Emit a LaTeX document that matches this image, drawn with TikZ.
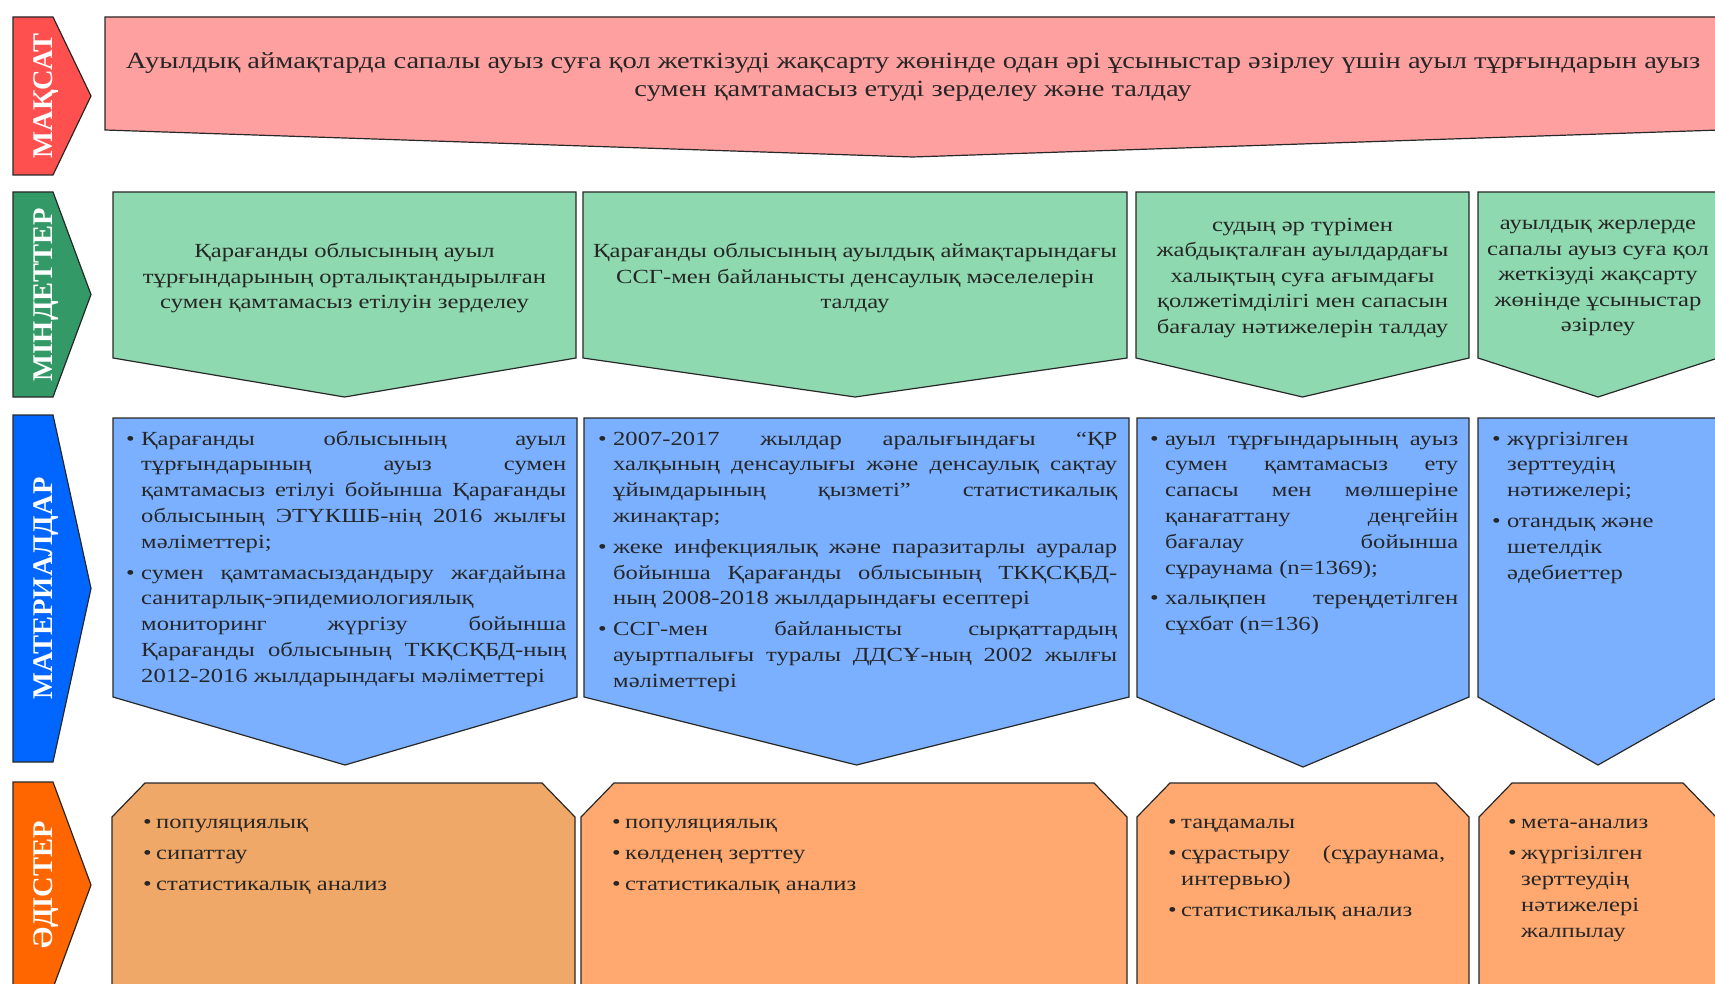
\documentclass[tikz,border=0pt]{standalone}
\usepackage{fontspec}
\setmainfont{Liberation Serif}[FakeStretch=1.23]
\newfontfamily\lblfont{Liberation Serif}
\definecolor{pinkfill}{RGB}{255,160,160}
\definecolor{greenfill}{RGB}{142,217,176}
\definecolor{bluefill}{RGB}{122,176,255}
\definecolor{orangeA}{RGB}{240,168,104}
\definecolor{orangeB}{RGB}{255,169,112}
\definecolor{lblred}{RGB}{255,80,80}
\definecolor{lblgreen}{RGB}{51,153,102}
\definecolor{lblblue}{RGB}{0,102,255}
\definecolor{lblorange}{RGB}{255,102,0}
\definecolor{edgecol}{RGB}{40,40,40}
\newlength\bulw
\newcommand\itm[1]{\par\noindent\hangindent=\bulw\hangafter=1\hbox to\bulw{\strut•\hss}#1\par}
\newcommand\lblshape[3]{\path[shp, fill=#1] (13,#2) -- (53,#2) -- (91,{(#2+#3)/2}) -- (53,#3) -- (13,#3) -- cycle;}
\newcommand\chev[6]{\path[shp, fill=#1] (#2,#4) -- (#3,#4) -- (#3,#5) -- ({(#2+#3)/2},#6) -- (#2,#5) -- cycle;}
\newcommand\cutbox[3]{\path[shp, fill=#1] (#2,817) -- (#2+33,783) -- (#3-33,783) -- (#3,817) -- (#3,1010) -- (#2,1010) -- cycle;}
\tikzset{
 shp/.style={draw=edgecol, line width=1.2pt, line join=miter},
 lbl/.style={font=\lblfont\bfseries\fontsize{28.5}{30}\selectfont, text=white, rotate=90, inner sep=0pt, anchor=base},
 ctxt/.style={font=\fontsize{20}{25.5}\selectfont, align=center, inner sep=0pt, text=black!85},
 mat/.style={font=\fontsize{20}{25.8}\selectfont, align=justify, inner sep=0pt, anchor=north west, text=black!85,
   execute at begin node={\setlength\bulw{15pt}\setlength\parskip{5pt}\hyphenpenalty=10000\exhyphenpenalty=10000\hbadness=10000}},
 met/.style={font=\fontsize{20}{26}\selectfont, align=justify, inner sep=0pt, anchor=north west, text=black!85,
   execute at begin node={\setlength\bulw{13pt}\setlength\parskip{4.6pt}\hyphenpenalty=10000\exhyphenpenalty=10000\hbadness=10000}},
}
\begin{document}
\begin{tikzpicture}[x=1pt,y=-1pt]
\useasboundingbox (0,0) rectangle (1715,984);
\fill[white] (0,0) rectangle (1715,984);
\clip (0,0) rectangle (1715,984);
% left labels
\lblshape{lblred}{17}{175}
\lblshape{lblgreen}{192}{397}
\lblshape{lblblue}{415}{762}
\lblshape{lblorange}{782}{988}
\node[lbl] (lab1) at (52,96) {МАҚСАТ};
\node[lbl] (lab2) at (52,294.5) {МІНДЕТТЕР};
\node[lbl] (lab3) at (52,588.5) {МАТЕРИАЛДАР};
\node[lbl] (lab4) at (52,885) {ӘДІСТЕР};
% goal
\chev{pinkfill}{105}{1720}{17}{130}{157}
\node[ctxt, font=\fontsize{23.2}{28.4}\selectfont] (goal) at (913,77) {Ауылдық аймақтарда сапалы ауыз суға қол жеткізуді жақсарту жөнінде одан әрі ұсыныстар әзірлеу үшін ауыл тұрғындарын ауыз\\сумен қамтамасыз етуді зерделеу және талдау};
% tasks
\chev{greenfill}{113}{576}{192}{358}{397}
\chev{greenfill}{583}{1127}{192}{358}{397}
\chev{greenfill}{1136}{1469}{192}{358}{397}
\chev{greenfill}{1478}{1718}{192}{358}{397}
\node[ctxt] (t1) at (344.5,278) {Қарағанды облысының ауыл\\тұрғындарының орталықтандырылған\\сумен қамтамасыз етілуін зерделеу};
\node[ctxt] (t2) at (855,278) {Қарағанды облысының ауылдық аймақтарындағы\\ССГ-мен байланысты денсаулық мәселелерін\\талдау};
\node[ctxt] (t3) at (1302.5,278) {судың әр түрімен\\жабдықталған ауылдардағы\\халықтың суға ағымдағы\\қолжетімділігі мен сапасын\\бағалау нәтижелерін талдау};
\node[ctxt] (t4) at (1598,278) {ауылдық жерлерде\\сапалы ауыз суға қол\\жеткізуді жақсарту\\жөнінде ұсыныстар\\әзірлеу};
% materials
\chev{bluefill}{113}{577}{418}{697}{765}
\chev{bluefill}{584}{1129}{418}{697}{765}
\chev{bluefill}{1137}{1469}{418}{697}{767}
\chev{bluefill}{1478}{1718}{418}{697}{765}
\node[mat, text width=440pt] (m1) at (126,414) {%
\itm{Қарағанды облысының ауыл\linebreak тұрғындарының ауыз сумен\linebreak қамтамасыз етілуі бойынша Қарағанды\linebreak облысының ЭТҮКШБ-нің 2016 жылғы\linebreak мәліметтері;}%
\itm{сумен қамтамасыздандыру жағдайына\linebreak санитарлық-эпидемиологиялық\linebreak мониторинг жүргізу бойынша\linebreak Қарағанды облысының ТКҚСҚБД-ның\linebreak 2012-2016 жылдарындағы мәліметтері}};
\node[mat, text width=519pt] (m2) at (598,414) {%
\itm{2007-2017 жылдар аралығындағы “ҚР\linebreak халқының денсаулығы және денсаулық сақтау\linebreak ұйымдарының қызметі” статистикалық\linebreak жинақтар;}%
\itm{жеке инфекциялық және паразитарлы ауралар\linebreak бойынша Қарағанды облысының ТКҚСҚБД-\linebreak ның 2008-2018 жылдарындағы есептері}%
\itm{ССГ-мен байланысты сырқаттардың\linebreak ауыртпалығы туралы ДДСҰ-ның 2002 жылғы\linebreak мәліметтері}};
\node[mat, text width=308pt] (m3) at (1150,414) {%
\itm{ауыл тұрғындарының ауыз\linebreak сумен қамтамасыз ету\linebreak сапасы мен мөлшеріне\linebreak қанағаттану деңгейін\linebreak бағалау бойынша\linebreak сұраунама (n=1369);}%
\itm{халықпен тереңдетілген\linebreak сұхбат (n=136)}};
\node[mat, text width=200pt] (m4) at (1492,414) {%
\itm{жүргізілген\\зерттеудің\\нәтижелері;}%
\itm{отандық және\\шетелдік\\әдебиеттер}};
% methods
\cutbox{orangeA}{112}{575}
\cutbox{orangeB}{581}{1127}
\cutbox{orangeB}{1137}{1469}
\cutbox{orangeB}{1479}{1716}
\node[met, text width=400pt] (e1) at (143,798) {%
\itm{популяциялық}\itm{сипаттау}\itm{статистикалық анализ}};
\node[met, text width=480pt] (e2) at (612,798) {%
\itm{популяциялық}\itm{көлденең зерттеу}\itm{статистикалық анализ}};
\node[met, text width=277pt] (e3) at (1168,798) {%
\itm{таңдамалы}\itm{сұрастыру (сұраунама,\linebreak интервью)}\itm{статистикалық анализ}};
\node[met, text width=190pt] (e4) at (1508,798) {%
\itm{мета-анализ}\itm{жүргізілген\\зерттеудің\\нәтижелері\\жалпылау}};
\end{tikzpicture}
\end{document}
